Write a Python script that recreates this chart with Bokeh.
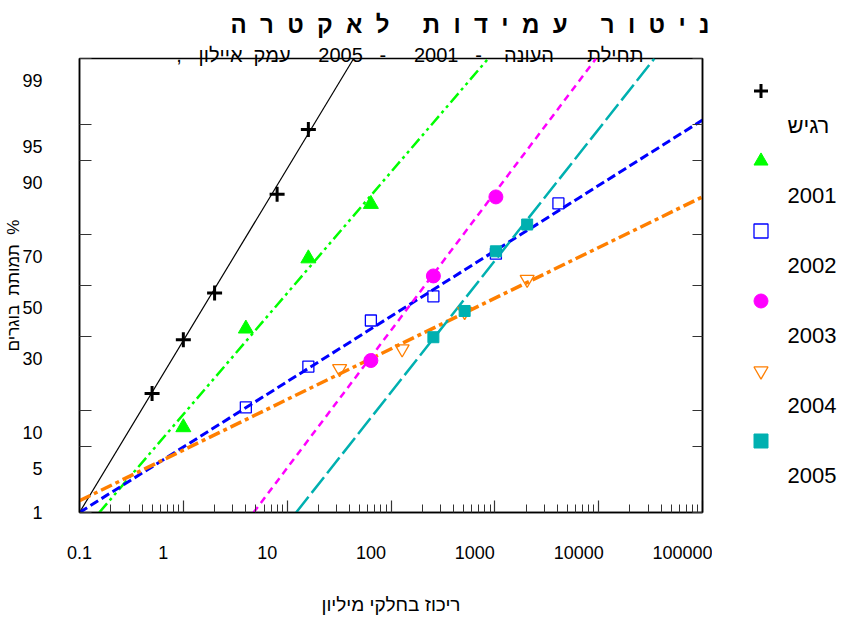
import math
from statistics import NormalDist
from bokeh.plotting import figure
from bokeh.layouts import row
from bokeh.models import (Range1d, LinearAxis, LogAxis, LogScale, FixedTicker,
                          Legend, LegendItem, Grid, Title)
from bokeh.embed import file_html
from bokeh.resources import INLINE

# ---------------- data ----------------
series_names = ["רגיש", "2001", "2002", "2003", "2004", "2005"]

sens_x = [0.5, 1, 2, 8, 16]
sens_p = [13.4, 28.9, 46.9, 82.5, 94.5]
y2001_x = [1, 4, 16, 64]
y2001_p = [7.3, 32.9, 60.9, 79.8]
y2002_x = [4, 16, 64, 256, 1024, 4096]
y2002_p = [10.6, 20.3, 36.0, 45.6, 62.8, 80.0]
y2003_x = [64, 256, 1024]
y2003_p = [22.1, 53.9, 81.8]
y2004_x = [32, 128, 512, 2048]
y2004_p = [19.7, 25.8, 39.5, 52.5]
y2005_x = [256, 512, 1024, 2048]
y2005_p = [29.8, 39.7, 63.7, 73.4]

# fitted probit lines: two (concentration, %) points each, where they meet the frame
fit_sens_x = [0.1, 43.7]
fit_sens_p = [1, 99]
fit_2001_x = [0.155, 865]
fit_2001_p = [1, 99]
fit_2002_x = [0.1, 100000]
fit_2002_p = [1, 95.5]
fit_2003_x = [4.75, 9440]
fit_2003_p = [1, 99]
fit_2004_x = [0.1, 100000]
fit_2004_p = [1.37, 81.8]
fit_2005_x = [12.2, 34400]
fit_2005_p = [1, 99]

x_tick_vals = [0.1, 1, 10, 100, 1000, 10000, 100000]
x_tick_labels = ["0.1", "1", "10", "100", "1000", "10000", "100000"]
y_tick_vals = [1, 5, 10, 30, 50, 70, 90, 95, 99]
y_tick_labels = ["1", "5", "10", "30", "50", "70", "90", "95", "99"]

NB = "\u00a0"
title_text = (NB + " ").join(["נ", "י", "ט", "ו", "ר"]) + NB * 5 + \
             (NB + " ").join(["ע", "מ", "י", "ד", "ו", "ת"]) + NB * 5 + \
             (NB + " ").join(["ל", "א", "ק", "ט", "ר", "ה"])
subtitle_text = ("תחילת" + NB * 6 + "העונה" + NB * 4 + "-" + NB * 3 + "2001" + NB * 5 +
                 "-" + NB * 3 + "2005" + NB * 5 + "עמק" + NB * 2 + "איילון" + NB * 3 + "," + "\u200f")
x_title = "ריכוז בחלקי מיליון"
y_title = "תמותת" + NB + " " + "בוגרים" + NB + " " + "%"

# ---------------- helpers ----------------
_nd = NormalDist()
def probit(pct):
    return _nd.inv_cdf(pct / 100.0)

FONT = "Liberation Sans"
BL, BR, BT, BB = 79, 10, 58, 110
FW, FH = 623, 454
W, H = BL + FW + BR, BT + FH + BB
XLO, XHI = x_tick_vals[0], x_tick_vals[-1]
ZLO, ZHI = probit(y_tick_vals[0]), probit(y_tick_vals[-1])
DY_PX, DX_PX = 22, 20          # the original prints its tick labels shifted
dz = DY_PX * (ZHI - ZLO) / FH
fx = 10 ** (DX_PX * math.log10(XHI / XLO) / FW)

p = figure(width=W, height=H, x_axis_type="log", title=None,
           x_range=Range1d(XLO, XHI), y_range=Range1d(ZLO, ZHI),
           x_axis_location=None, y_axis_location=None,
           output_backend="svg", toolbar_location=None,
           min_border_left=BL, min_border_right=BR, min_border_top=BT, min_border_bottom=BB,
           background_fill_color="white", border_fill_color="white")
for r in p.center:
    if isinstance(r, Grid):
        r.visible = False
p.outline_line_color = "black"
p.outline_line_width = 1.5

# ---------------- axes: tick marks ----------------
minor_x = [m * v for v in x_tick_vals[:-1] for m in range(2, 10)]
y_tick_z = [probit(v) for v in y_tick_vals]

def tick_style(ax):
    ax.major_label_text_font_size = "0px"
    ax.major_label_text_color = None
    ax.major_label_standoff = 0
    ax.axis_line_color = "black"
    ax.axis_line_width = 1.5
    ax.major_tick_line_color = "#333333"
    ax.major_tick_line_width = 1.2
    ax.minor_tick_line_color = "#333333"
    ax.major_tick_out = 0
    ax.minor_tick_out = 0

ax_b = LogAxis(ticker=FixedTicker(ticks=x_tick_vals, minor_ticks=minor_x),
               major_tick_in=12, minor_tick_in=8)
tick_style(ax_b)
p.add_layout(ax_b, "below")

ax_l = LinearAxis(ticker=FixedTicker(ticks=y_tick_z), major_tick_in=12)
tick_style(ax_l)
p.add_layout(ax_l, "left")

ax_r = LinearAxis(ticker=FixedTicker(ticks=y_tick_z), major_tick_in=10)
tick_style(ax_r)
p.add_layout(ax_r, "right")

# ---------------- axes: tick labels (shifted like the original) ----------------
p.extra_x_ranges = {"xlab": Range1d(XLO * fx, XHI * fx)}
p.extra_x_scales = {"xlab": LogScale()}
p.extra_y_ranges = {"ylab": Range1d(ZLO + dz, ZHI + dz)}

def label_style(ax, standoff):
    ax.axis_line_color = None
    ax.major_tick_line_color = None
    ax.minor_tick_line_color = None
    ax.major_tick_in = ax.major_tick_out = 0
    ax.minor_tick_in = ax.minor_tick_out = 0
    ax.major_label_standoff = standoff
    ax.major_label_text_font = FONT
    ax.major_label_text_font_size = "18px"
    ax.major_label_text_color = "black"
    ax.axis_label_text_font = FONT
    ax.axis_label_text_font_style = "normal"
    ax.axis_label_text_color = "black"

# the first label sits on the frame edge (the original draws it just outside)
xlab_pos = [XLO * fx] + x_tick_vals[1:]
lab_x = LogAxis(x_range_name="xlab", ticker=FixedTicker(ticks=xlab_pos),
                major_label_overrides={v: t for v, t in zip(xlab_pos, x_tick_labels)},
                axis_label=x_title, axis_label_standoff=32,
                axis_label_text_font_size="19px")
label_style(lab_x, 33)
p.add_layout(lab_x, "below")

ylab_pos = [ZLO + dz] + y_tick_z[1:]
lab_y = LinearAxis(y_range_name="ylab", ticker=FixedTicker(ticks=ylab_pos),
                   major_label_overrides={z: t for z, t in zip(ylab_pos, y_tick_labels)},
                   axis_label=y_title, axis_label_standoff=-4,
                   axis_label_text_font_size="17px")
label_style(lab_y, 37)
p.add_layout(lab_y, "left")

# ---------------- titles ----------------
p.add_layout(Title(text=subtitle_text, align="right", offset=59, vertical_align="bottom",
                   standoff=-14, text_font=FONT, text_font_size="20px",
                   text_font_style="normal", text_color="black"), "above")
p.add_layout(Title(text=title_text, align="left", offset=151, vertical_align="top",
                   standoff=17, text_font=FONT, text_font_size="24px",
                   text_font_style="bold", text_color="black"), "above")

# ---------------- series ----------------
series = [
    (sens_x, sens_p, fit_sens_x, fit_sens_p, "black", "solid", 1.2,
     dict(marker="cross", size=15, line_color="black", line_width=3)),
    (y2001_x, y2001_p, fit_2001_x, fit_2001_p, "#00FF00", "12 4 3 4 3 4", 2.5,
     dict(marker="triangle", size=15, fill_color="#00FF00", line_color="#00FF00")),
    (y2002_x, y2002_p, fit_2002_x, fit_2002_p, "#0000FF", "9 4", 3,
     dict(marker="square", size=11, fill_color=None, line_color="#0000FF", line_width=1.3)),
    (y2003_x, y2003_p, fit_2003_x, fit_2003_p, "#FF00FF", "7 5", 2.5,
     dict(marker="circle", size=14, fill_color="#FF00FF", line_color="#FF00FF")),
    (y2004_x, y2004_p, fit_2004_x, fit_2004_p, "#FF7F00", "12 4 4 4", 3.5,
     dict(marker="inverted_triangle", size=14, fill_color=None, line_color="#FF7F00", line_width=1.3)),
    (y2005_x, y2005_p, fit_2005_x, fit_2005_p, "#00B0B0", "20 5", 2.5,
     dict(marker="square", size=11, fill_color="#00B0B0", line_color="#00B0B0")),
]

for xs, ps, fxs, fps, col, dash, lw, mk in series:
    p.line(fxs, [probit(v) for v in fps], line_color=col, line_dash=dash, line_width=lw)

for xs, ps, fxs, fps, col, dash, lw, mk in series:
    p.scatter(xs, [probit(v) for v in ps], **mk)

# ---------------- legend (own panel to the right of the chart) ----------------
LW = 840 - W
leg = figure(width=LW, height=H, x_range=Range1d(0, 1), y_range=Range1d(0, 1),
             x_axis_location=None, y_axis_location=None, title=None,
             output_backend="svg", toolbar_location=None,
             min_border_left=0, min_border_right=0, min_border_top=0, min_border_bottom=0,
             background_fill_color="white", border_fill_color="white")
leg.outline_line_color = None
for r in leg.center:
    if isinstance(r, Grid):
        r.visible = False

# legend keys: one undrawn (NaN) point each, so only the legend shows the marker
blank = leg.scatter(x=[math.nan], y=[math.nan], marker="circle", size=1,
                    fill_alpha=0, line_alpha=0)
items = []
for name, s in zip(series_names, series):
    key = leg.scatter(x=[math.nan], y=[math.nan], **s[7])
    items.append(LegendItem(label="", renderers=[key]))
    items.append(LegendItem(label=name, renderers=[blank]))

legend = Legend(items=items, location=(742.5 - W, (BT + FH) - 493),
                orientation="vertical",
                glyph_width=35, glyph_height=35, label_height=35, label_standoff=10,
                padding=0, spacing=0, margin=0, border_line_color=None,
                background_fill_alpha=0, label_text_font=FONT, label_text_font_size="22px",
                label_text_color="black")
leg.add_layout(legend, "center")

open("out.html", "w").write(file_html(row(p, leg, spacing=0), INLINE))
